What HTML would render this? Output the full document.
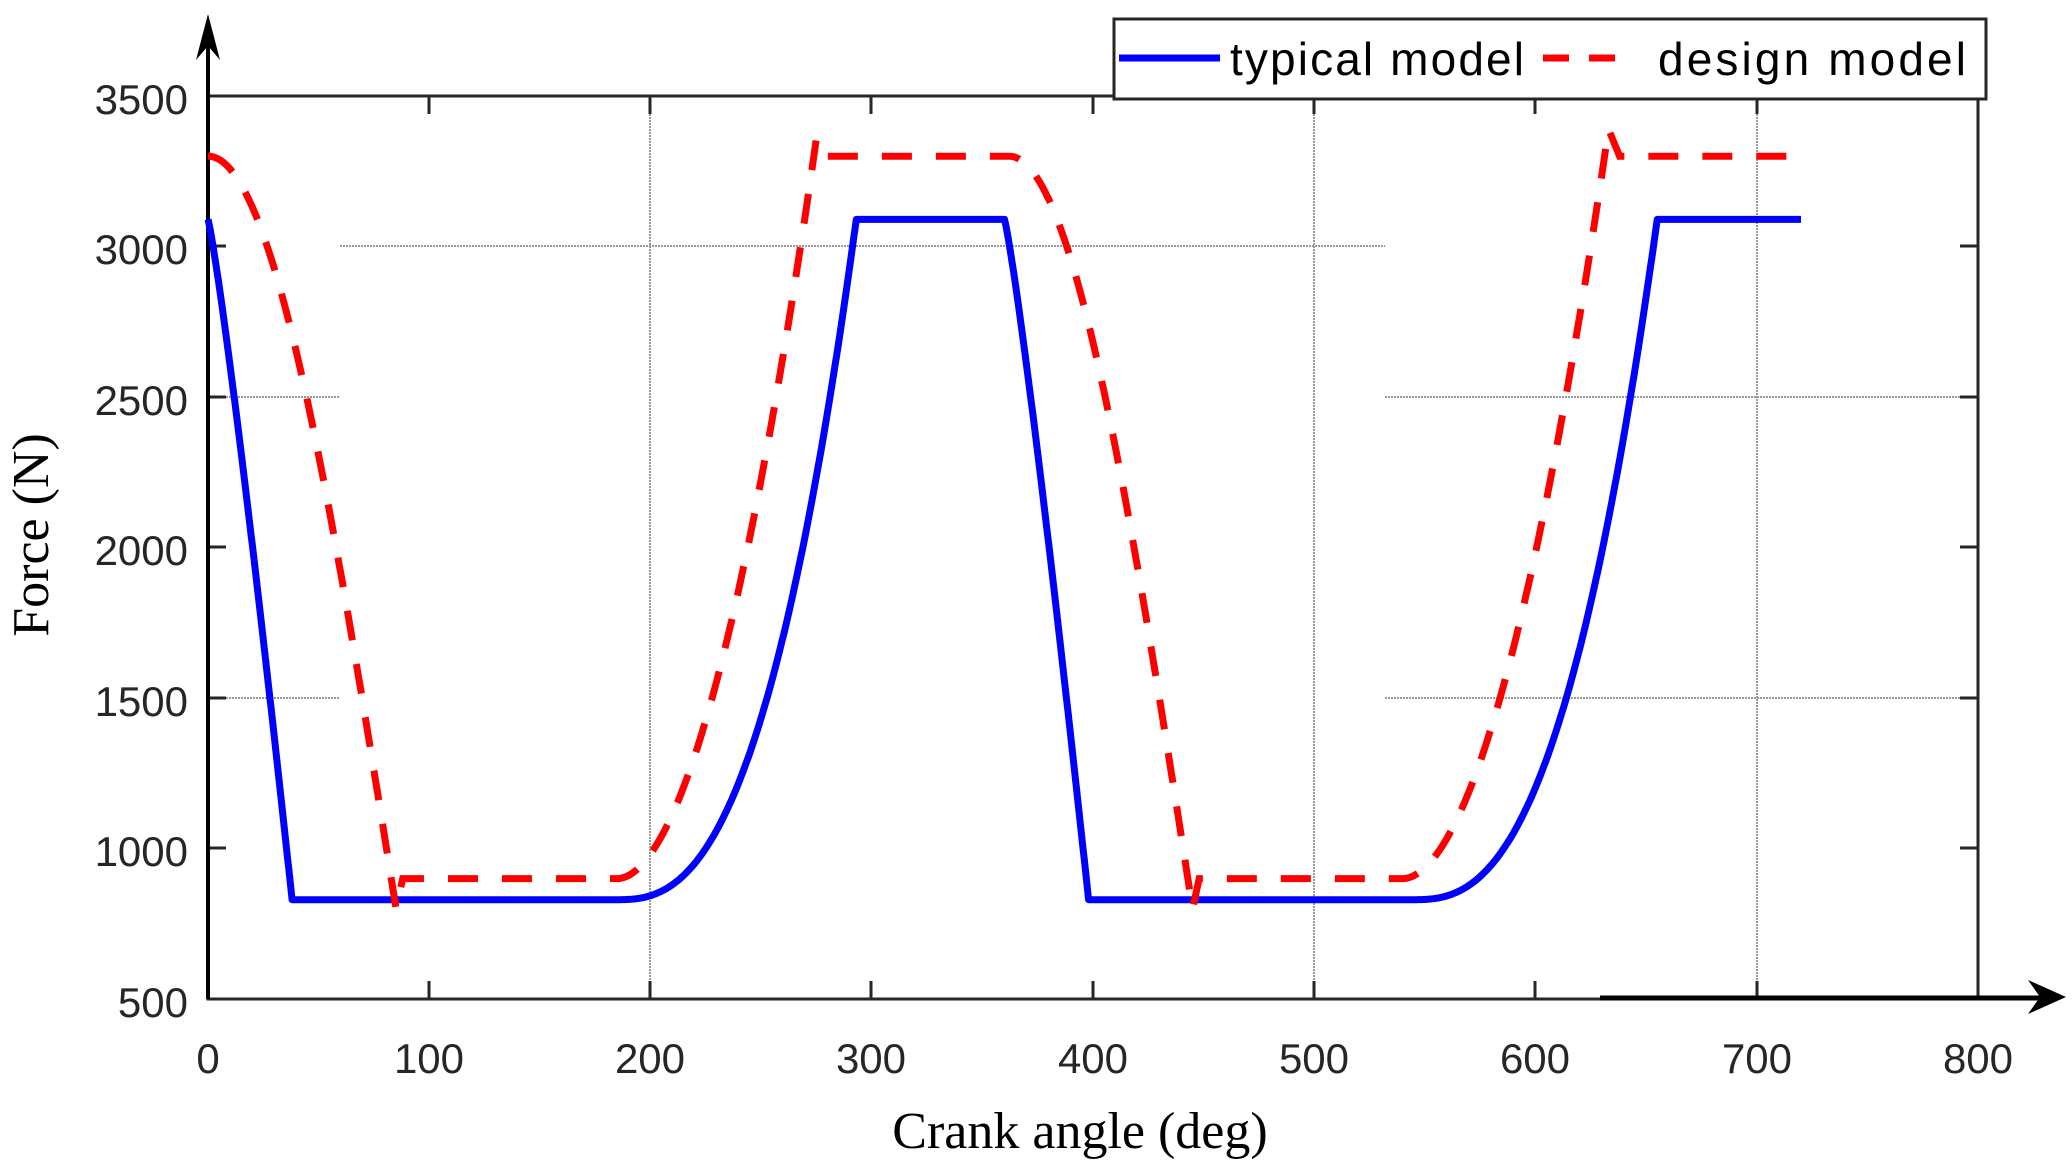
<!DOCTYPE html>
<html><head><meta charset="utf-8"><style>
html,body{margin:0;padding:0;background:#fff;}
svg{display:block;}
.t{font-family:"Liberation Sans",sans-serif;font-size:42px;fill:#262626;}
</style></head><body>
<svg id="s" width="2072" height="1170" xmlns="http://www.w3.org/2000/svg">
<rect width="2072" height="1170" fill="#fff"/>
<g stroke="#999" stroke-width="2" stroke-dasharray="2,1">
<line x1="650" y1="96" x2="650" y2="999"/>
<line x1="1314" y1="96" x2="1314" y2="999"/>
<line x1="1757" y1="96" x2="1757" y2="999"/>
<line x1="340" y1="246" x2="1385" y2="246"/>
<line x1="208" y1="397" x2="340" y2="397"/><line x1="1385" y1="397" x2="1978" y2="397"/>
<line x1="208" y1="698" x2="340" y2="698"/><line x1="1385" y1="698" x2="1978" y2="698"/>
</g>
<g stroke="#262626" stroke-width="3" fill="none">
<rect x="208" y="96" width="1770" height="903"/>
<path d="M429 999v-18M650 999v-18M871 999v-18M1093 999v-18M1314 999v-18M1535 999v-18M1757 999v-18"/>
<path d="M429 96v18M650 96v18M871 96v18M1093 96v18M1314 96v18M1535 96v18M1757 96v18"/>
<path d="M208 246h18M208 397h18M208 547h18M208 698h18M208 848h18"/>
<path d="M1978 246h-18M1978 397h-18M1978 547h-18M1978 698h-18M1978 848h-18"/>
</g>
<line x1="208" y1="999" x2="208" y2="40" stroke="#000" stroke-width="4"/>
<polygon points="208,14 196,60 208,46 220,60" fill="#000"/>
<line x1="1600" y1="998" x2="2040" y2="998" stroke="#000" stroke-width="5"/>
<polygon points="2066,997 2028,980 2040,997 2028,1014" fill="#000"/>
<path id="blue" fill="none" stroke="#0000ff" stroke-width="7" stroke-linejoin="round"/>
<path id="red" fill="none" stroke="#ff0000" stroke-width="7" stroke-dasharray="30,24"/>
<g class="t" text-anchor="end">
<text x="188" y="114">3500</text><text x="188" y="264">3000</text><text x="188" y="415">2500</text>
<text x="188" y="565">2000</text><text x="188" y="716">1500</text><text x="188" y="866">1000</text><text x="188" y="1017">500</text>
</g>
<g class="t" text-anchor="middle">
<text x="208" y="1073">0</text><text x="429" y="1073">100</text><text x="650" y="1073">200</text><text x="871" y="1073">300</text>
<text x="1093" y="1073">400</text><text x="1314" y="1073">500</text><text x="1535" y="1073">600</text><text x="1757" y="1073">700</text><text x="1978" y="1073">800</text>
</g>
<text x="1080" y="1148" text-anchor="middle" font-family="Liberation Serif,serif" font-size="52" fill="#000">Crank angle (deg)</text>
<text transform="translate(48,535) rotate(-90)" text-anchor="middle" font-family="Liberation Serif,serif" font-size="52" fill="#000">Force (N)</text>
<rect x="1114" y="19" width="872" height="80" fill="#fff" stroke="#262626" stroke-width="3"/>
<line x1="1119" y1="58" x2="1220" y2="58" stroke="#0000ff" stroke-width="7"/>
<line x1="1543" y1="58" x2="1630" y2="58" stroke="#ff0000" stroke-width="7" stroke-dasharray="26,20"/>
<text x="1230" y="75" font-family="Liberation Sans,sans-serif" font-size="46" fill="#000" textLength="294">typical model</text>
<text x="1658" y="75" font-family="Liberation Sans,sans-serif" font-size="46" fill="#000" textLength="308">design model</text>
</svg>
<script>
function X(d){return 208+d*2.2125;}
function Y(f){return 96+(3500-f)*0.301;}
function build(fn){var s="";for(var d=0;d<=720;d+=0.5){var f=fn(d);s+=(d==0?"M":"L")+X(d).toFixed(1)+" "+Y(f).toFixed(1);}return s;}
function blue(d){
 if(d<=38) return 3090-2260*Math.pow(d/38,1.15);
 if(d<=185) return 830;
 if(d<=293){var t=(d-185)/108;return 830+2260*Math.pow(t,2.6);}
 if(d<=360) return 3090;
 if(d<=398) return 3090-2260*Math.pow((d-360)/38,1.15);
 if(d<=545) return 830;
 if(d<=655){var t=(d-545)/110;return 830+2260*Math.pow(t,2.6);}
 return 3090;}
function red(d){
 if(d<=85) return 800+2500*Math.cos(Math.PI/2*d/85);
 if(d<=88) return 800+100*(d-85)/3;
 if(d<=185) return 900;
 if(d<=275){var t=(d-185)/90;return 900+2460*Math.pow(t,1.9);}
 if(d<=280) return 3360-60*(d-275)/5;
 if(d<=362) return 3300;
 if(d<=445) return 800+2500*Math.cos(Math.PI/2*(d-362)/83);
 if(d<=448) return 800+100*(d-445)/3;
 if(d<=540) return 900;
 if(d<=633){var t=(d-540)/93;return 900+2490*Math.pow(t,1.9);}
 if(d<=638) return 3390-90*(d-633)/5;
 return 3300;}
document.getElementById("blue").setAttribute("d",build(blue));
document.getElementById("red").setAttribute("d",build(red));
</script>
</body></html>
